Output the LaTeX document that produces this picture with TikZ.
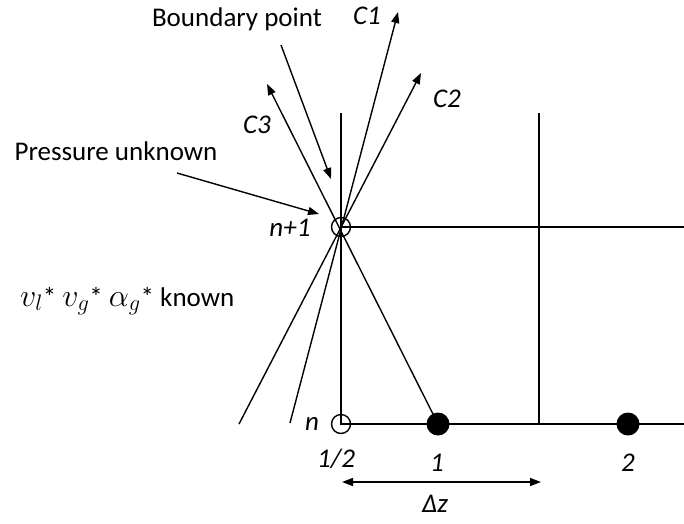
\RequirePackage{fix-cm}
\documentclass[tikz,border=0pt]{standalone}
\usepackage{fontspec}
\setmainfont{Carlito}
\usetikzlibrary{arrows.meta}
\begin{document}
\begin{tikzpicture}[x=1pt,y=-1pt,
  gridline/.style={line width=2.3pt},
  charline/.style={line width=1.4pt},
  arr/.style={line width=1.4pt,-{Triangle[length=11pt,width=8pt]}},
  dblarr/.style={line width=1.4pt,{Triangle[length=11pt,width=8pt]}-{Triangle[length=11pt,width=8pt]}},
  opendot/.style={circle,draw,line width=1.4pt,minimum size=19pt,inner sep=0pt},
  fulldot/.style={circle,fill,minimum size=23pt,inner sep=0pt},
  lbl/.style={font=\fontsize{27}{31}\selectfont,inner sep=0pt},
  ilbl/.style={font=\fontsize{27}{31}\selectfont\itshape,inner sep=0pt}]
\useasboundingbox (0,0) rectangle (684,523);
% grid coordinates
\coordinate (P) at (341,227);
\coordinate (N) at (341,424);
\coordinate (vt1) at (341,113);
\coordinate (vt2) at (539,113);
\coordinate (vb2) at (539,424);
\coordinate (hr1) at (684,227);
\coordinate (hr2) at (684,424);
% grid
\draw[gridline] (vt1) -- (N) -- (hr2);
\draw[gridline] (P) -- (hr1);
\draw[gridline] (vt2) -- (vb2);
% points
\node[opendot] (Pn) at (P) {};
\node[opendot] (Nn) at (N) {};
\node[fulldot] (d1) at (438,424) {};
\node[fulldot] (d2) at (628,424) {};
% characteristic lines
\coordinate (s2) at (239,424);
\coordinate (s1) at (290,423);
\coordinate (t1) at (398,12);
\coordinate (t2) at (421,73);
\coordinate (t3) at (267,84);
\draw[arr] (s1) -- (t1);
\draw[arr] (s2) -- (t2);
\draw[arr] (d1.center) -- (t3);
% annotation arrows
\coordinate (bpA) at (281,45);
\coordinate (bpB) at (331,179);
\coordinate (puA) at (177,173);
\coordinate (puB) at (319,214);
\draw[arr] (bpA) -- (bpB);
\draw[arr] (puA) -- (puB);
% delta z
\coordinate (dzA) at (342,482);
\coordinate (dzB) at (541,482);
\draw[dblarr] (dzA) -- (dzB);
% labels
\node[lbl] (lbp) at (237,19) {Boundary point};
\node[ilbl] (lc1) at (367,16) {C1};
\node[ilbl] (lc2) at (447,99) {C2};
\node[ilbl] (lc3) at (257,125) {C3};
\node[lbl] (lpu) at (116,151) {Pressure unknown};
\node[ilbl] (lnp) at (290,228) {n+1};
\node[lbl,anchor=west] (lknown) at (20,301) {{\fontsize{32}{36}\selectfont$v_l$}* {\fontsize{32}{36}\selectfont$v_g$}* {\fontsize{32}{36}\selectfont$\alpha_g$}* known};
\node[ilbl] (ln) at (312,424) {n};
\node[ilbl] (lhalf) at (336,459) {1/2};
\node[ilbl] (l1) at (437,463) {1};
\node[ilbl] (l2) at (628,463) {2};
\node[ilbl] (ldz) at (435,504) {Δz};
\end{tikzpicture}
\end{document}
